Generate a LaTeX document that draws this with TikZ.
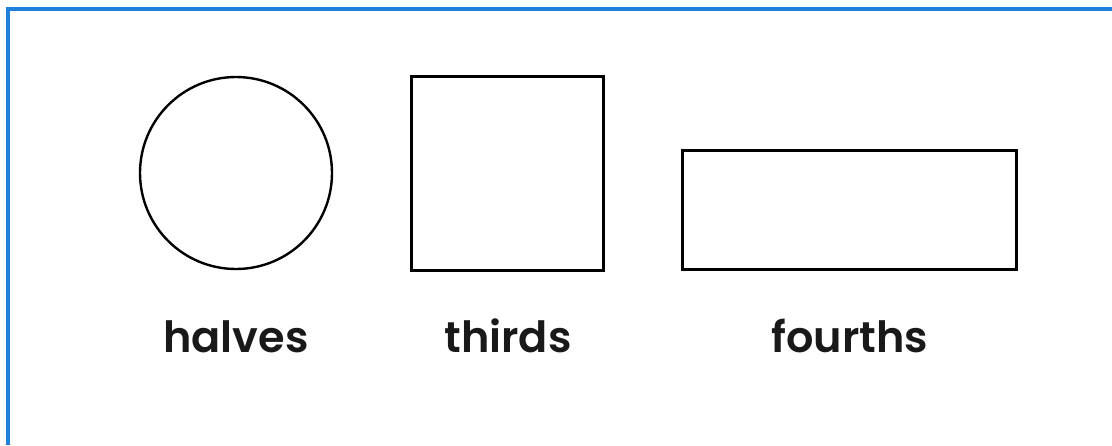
\documentclass[tikz,border=0pt]{standalone}
\usepackage{fontspec}
\usepackage{tikz}
\usetikzlibrary{positioning}
\setmainfont{Poppins}[UprightFont=* SemiBold]
\definecolor{FrameBlue}{HTML}{1F80DA}

\begin{document}
\begin{tikzpicture}[
    x=1pt, y=-1pt,
    every node/.style={inner sep=0pt, outer sep=0pt},
    figshape/.style={draw=black, line width=2.4pt},
    word/.style={font=\fontsize{43}{50}\selectfont, anchor=base, text=black!90}
  ]
    \useasboundingbox (0,0) rectangle (1112,445);
    \fill[white] (0,0) rectangle (1112,445);
    \draw[FrameBlue, line width=3.6pt] (8,445) -- (8,9) -- (1112,9);

    \node[figshape, circle, minimum size=192pt] (halfshape) at (236,173) {};
    \node[figshape, rectangle, minimum width=192pt, minimum height=194pt] (thirdshape) at (507.5,173.5) {};
    \node[figshape, rectangle, minimum width=334pt, minimum height=119pt] (fourthshape) at (849.5,210) {};

    \node[word] (halves) at (236,352) {halves};
    \node[word] (thirds) at (508,352) {thirds};
    \node[word] (fourths) at (850,352) {fourths};
  \end{tikzpicture}
\end{document}
